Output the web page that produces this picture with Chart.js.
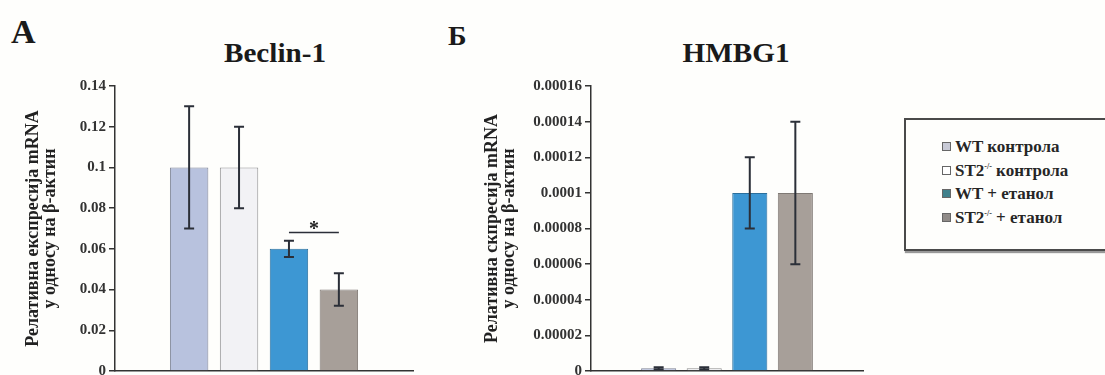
<!DOCTYPE html>
<html>
<head>
<meta charset="utf-8">
<script src="https://cdn.jsdelivr.net/npm/chart.js@4.4.1/dist/chart.umd.min.js"></script>
<style>
  html, body { margin: 0; padding: 0; background: #fefefc; }
  #wrap { position: relative; width: 1105px; height: 375px; overflow: hidden; font-family: "Liberation Serif", serif; }
  canvas { position: absolute; top: 0; }
  .panel, .ttl { position: absolute; font-weight: bold; line-height: 1; color: #1a1a1a; white-space: nowrap; }
  .ttl { font-size: 27px; transform: translateX(-50%) scaleX(1.08); }
  #legend {
    position: absolute; left: 904px; top: 118px; width: 230px; height: 133px;
    border: 2px solid #4a4a4a; box-shadow: 1px 2px 1px #999; background: #fefefc;
    padding: 15px 0 0 36px; box-sizing: border-box;
    font-weight: bold; font-size: 17px; color: #262626;
  }
  #legend .row { height: 23.5px; line-height: 23.5px; white-space: nowrap; }
  #legend .sw { display: inline-block; width: 7px; height: 7px; border: 1px solid #666; margin-right: 4px; vertical-align: 1px; }
  #legend sup { font-size: 8px; vertical-align: 7px; line-height: 0; }
</style>
</head>
<body>
<div id="wrap">
  <div class="panel" style="left:11px;top:15px;font-size:34px;">A</div>
  <div class="panel" style="left:448px;top:22px;font-size:28px;">Б</div>
  <div class="ttl" style="left:275px;top:40px;">Beclin-1</div>
  <div class="ttl" style="left:736px;top:40px;">HMBG1</div>
  <canvas id="beclin" width="440" height="383" style="left:0;width:440px;height:383px;"></canvas>
  <canvas id="hmbg" width="460" height="383" style="left:440px;width:460px;height:383px;"></canvas>
  <div id="legend"></div>
</div>
<script>
// groups (shared by both panels)
const seriesNames = ['WT контрола', 'ST2<sup>-/-</sup> контрола', 'WT + етанол', 'ST2<sup>-/-</sup> + етанол'];
const barColors = ['#b8c2de', '#f2f2f5', '#3d97d3', '#a79f99'];
const barBorders = ['#7f8496', '#8f8f8f', '#2b6f9c', '#7f7974'];
const legendColors = ['#c8cad6', '#ffffff', '#3f808b', '#908b88'];

// Beclin-1
const beclinValues = [0.1, 0.1, 0.06, 0.04];
const beclinErrors = [0.03, 0.02, 0.004, 0.008];
const beclinTicks = ['0', '0.02', '0.04', '0.06', '0.08', '0.1', '0.12', '0.14'];
const beclinSig = { from: 2, to: 3, y: 0.068, label: '*' };

// HMBG1
const hmbgValues = [0.0000015, 0.0000015, 0.0001, 0.0001];
const hmbgErrors = [0.0000006, 0.0000006, 0.00002, 0.00004];
const hmbgTicks = ['0', '0.00002', '0.00004', '0.00006', '0.00008', '0.0001', '0.00012', '0.00014', '0.00016'];

document.getElementById('legend').innerHTML = seriesNames.map((n, i) =>
  `<div class="row"><span class="sw" style="background:${legendColors[i]}"></span>${n}</div>`
).join('');

// error bars + significance line
const errorBars = {
  id: 'errorBars',
  afterDatasetsDraw(chart, args, opts) {
    const ctx = chart.ctx;
    const y = chart.scales.y;
    ctx.save();
    ctx.strokeStyle = '#2b2f38';
    ctx.lineWidth = 2;
    chart.data.datasets.forEach((ds, i) => {
      const bar = chart.getDatasetMeta(i).data[0];
      const v = ds.data[0], e = opts.errors[i];
      const top = y.getPixelForValue(v + e), bot = y.getPixelForValue(v - e);
      ctx.beginPath();
      ctx.moveTo(bar.x, top); ctx.lineTo(bar.x, bot);
      ctx.moveTo(bar.x - 5, top); ctx.lineTo(bar.x + 5, top);
      ctx.moveTo(bar.x - 5, bot); ctx.lineTo(bar.x + 5, bot);
      ctx.stroke();
    });
    if (opts.sig) {
      const s = opts.sig;
      const x1 = chart.getDatasetMeta(s.from).data[0].x;
      const x2 = chart.getDatasetMeta(s.to).data[0].x;
      const py = y.getPixelForValue(s.y);
      ctx.lineWidth = 1.5;
      ctx.beginPath(); ctx.moveTo(x1, py); ctx.lineTo(x2, py); ctx.stroke();
      ctx.fillStyle = '#222';
      ctx.font = 'bold 20px "Liberation Serif"';
      ctx.textAlign = 'center';
      ctx.textBaseline = 'bottom';
      ctx.fillText(s.label, (x1 + x2) / 2, py + 7);
    }
    ctx.restore();
  }
};

function makeChart(id, values, errors, ticks, axisTitle, axisW, titlePadTop, rightPad, sig) {
  const step = parseFloat(ticks[1]);
  return new Chart(document.getElementById(id), {
    type: 'bar',
    data: {
      labels: [''],
      datasets: values.map((v, i) => ({
        label: seriesNames[i],
        data: [v],
        backgroundColor: barColors[i],
        borderColor: barBorders[i],
        borderWidth: 1
      }))
    },
    options: {
      responsive: false,
      animation: false,
      layout: { padding: { left: 0, right: rightPad, top: 86, bottom: 10 } },
      datasets: { bar: { categoryPercentage: 0.67, barPercentage: 0.77 } },
      plugins: {
        legend: { display: false },
        tooltip: { enabled: false },
        errorBars: { errors: errors, sig: sig }
      },
      scales: {
        x: {
          ticks: { display: false },
          grid: { display: false, drawTicks: false },
          border: { display: true, color: '#333', width: 1.5 },
          afterFit: s => { s.height = 0; }
        },
        y: {
          min: 0, max: step * (ticks.length - 1),
          afterBuildTicks: s => { s.ticks = ticks.map((t, i) => ({ value: step * i })); },
          ticks: {
            callback: (v, i) => ticks[i],
            color: '#333', padding: 3,
            font: { family: 'Liberation Serif', size: 15, weight: 'bold' }
          },
          grid: { drawOnChartArea: false, drawTicks: true, tickLength: 6, color: '#333', lineWidth: 1.5 },
          border: { display: true, color: '#333', width: 1.5 },
          title: {
            display: true, text: axisTitle, color: '#222',
            font: { family: 'Liberation Serif', size: 18, weight: 'bold', lineHeight: 0.95 },
            padding: { top: titlePadTop, bottom: 0 }
          },
          afterFit: s => { s.width = axisW; }
        }
      }
    },
    plugins: [errorBars]
  });
}

makeChart('beclin', beclinValues, beclinErrors, beclinTicks,
  ['Релативна експресија mRNA', 'у односу на β-актин'], 115, 24.5, 27, beclinSig);
makeChart('hmbg', hmbgValues, hmbgErrors, hmbgTicks,
  ['Релативна скпресија mRNA', 'у односу на β-актин'], 151, 43.5, 37, null);
</script>
</body>
</html>
